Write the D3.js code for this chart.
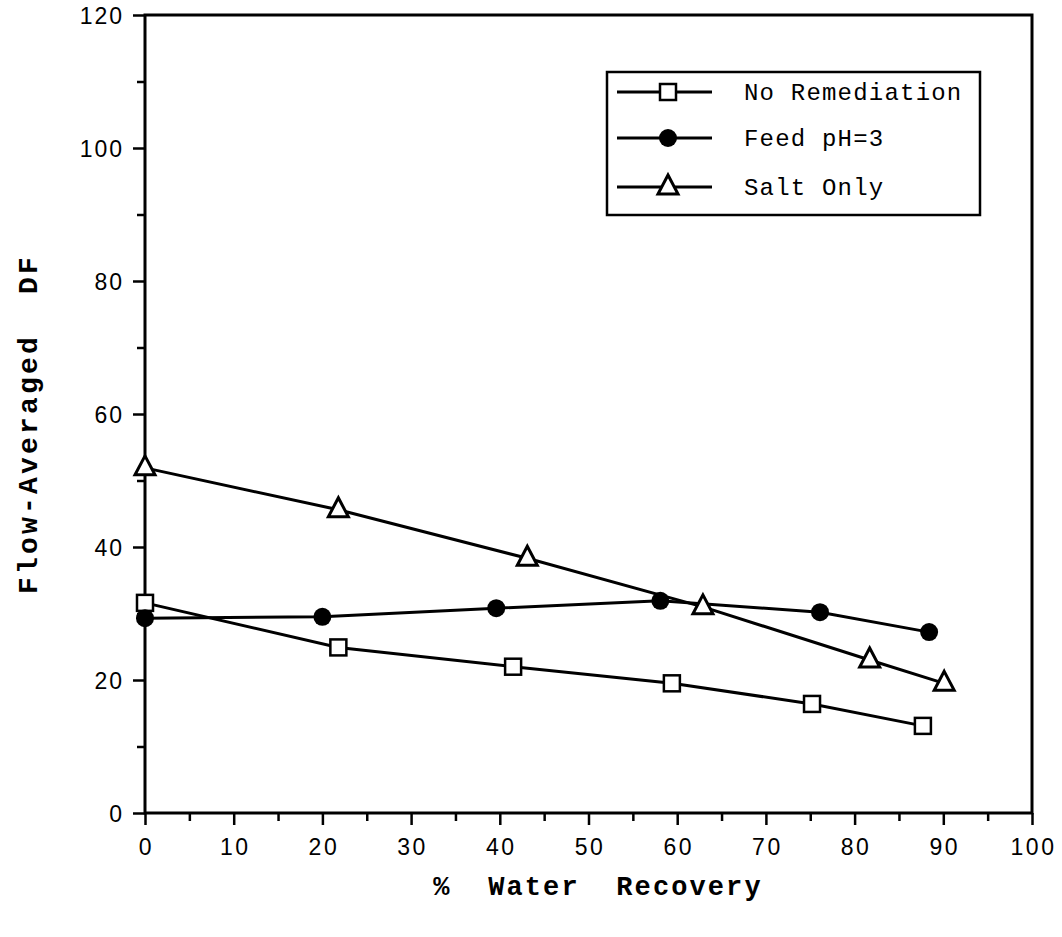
<!DOCTYPE html>
<html><head><meta charset="utf-8">
<script src="https://cdn.jsdelivr.net/npm/d3@7"></script>
<style>body{margin:0;background:#fff}</style>
</head><body><svg id="c" width="1062" height="937"></svg>
<script>
const noRemX = [0, 21.8, 41.5, 59.4, 75.2, 87.7];
const noRemY = [31.6, 24.9, 22.0, 19.5, 16.4, 13.1];
const feedX = [0, 20.0, 39.6, 58.1, 76.1, 88.4];
const feedY = [29.3, 29.5, 30.8, 31.9, 30.2, 27.2];
const saltX = [0, 21.8, 43.1, 62.9, 81.7, 90.1];
const saltY = [51.9, 45.6, 38.3, 31.0, 23.0, 19.5];
const seriesNames = ["No Remediation", "Feed pH=3", "Salt Only"];
const xTicks = [0,10,20,30,40,50,60,70,80,90,100];
const yTicks = [0,20,40,60,80,100,120];

const svg = d3.select("#c");
const L=145,R=1032,T=15,B=813;
const x = d3.scaleLinear().domain([0,100]).range([L,R]);
const y = d3.scaleLinear().domain([0,120]).range([B,T]);
const ink="#000";
const mono="'Liberation Mono','Courier New',monospace";

svg.append("rect").attr("x",L).attr("y",T).attr("width",R-L).attr("height",B-T)
  .attr("fill","none").attr("stroke",ink).attr("stroke-width",3);

const xa = svg.append("g").attr("transform",`translate(0,${B})`)
  .call(d3.axisBottom(x).tickValues(xTicks).tickSize(12).tickFormat(d3.format("d")));
const xm = svg.append("g").attr("transform",`translate(0,${B})`)
  .call(d3.axisBottom(x).tickValues(d3.range(5,100,10)).tickSize(8).tickFormat(""));
const ya = svg.append("g").attr("transform",`translate(${L},0)`)
  .call(d3.axisLeft(y).tickValues(yTicks).tickSize(12).tickFormat(d3.format("d")));
const ym = svg.append("g").attr("transform",`translate(${L},0)`)
  .call(d3.axisLeft(y).tickValues(d3.range(10,120,20)).tickSize(8).tickFormat(""));
[xa,xm,ya,ym].forEach(g=>{
  g.select(".domain").remove();
  g.selectAll("line").attr("stroke",ink).attr("stroke-width",2.5);
  g.selectAll("text").attr("fill",ink).style("font-family","'Liberation Sans',Arial,sans-serif");
});
xa.selectAll("text").style("font-size","23px").style("letter-spacing","2.5px")
  .attr("y",0).attr("dy",0).attr("transform","translate(1,42)");
ya.selectAll("text").style("font-size","23px").style("letter-spacing","2px")
  .attr("x",-21).attr("dy","0.36em");

svg.append("text").attr("x",598).attr("y",895).attr("text-anchor","middle")
  .style("font-family",mono).style("font-weight","bold")
  .style("font-size","27px").style("letter-spacing","2.1px").attr("xml:space","preserve").text("%  Water  Recovery");
svg.append("text").attr("transform","translate(37,424) rotate(-90)").attr("text-anchor","middle")
  .style("font-family",mono).style("font-weight","bold")
  .style("font-size","28px").style("letter-spacing","3.2px").attr("xml:space","preserve").text("Flow-Averaged  DF");

const line = d3.line().x(d=>x(d[0])).y(d=>y(d[1]));
const sets = [
  {xs:noRemX, ys:noRemY, m:"square"},
  {xs:feedX, ys:feedY, m:"circle"},
  {xs:saltX, ys:saltY, m:"triangle"}
];
function marker(g, cx, cy, m){
  if(m==="square") g.append("rect").attr("x",cx-8).attr("y",cy-8).attr("width",16).attr("height",16)
     .attr("fill","#fff").attr("stroke",ink).attr("stroke-width",2.5);
  else if(m==="circle") g.append("circle").attr("cx",cx).attr("cy",cy).attr("r",9).attr("fill",ink);
  else g.append("path").attr("d",`M${cx},${cy-12}L${cx+10},${cy+7}L${cx-10},${cy+7}Z`)
     .attr("fill","#fff").attr("stroke",ink).attr("stroke-width",3).attr("stroke-linejoin","miter");
}
sets.forEach(s=>{
  const pts = s.xs.map((v,i)=>[v,s.ys[i]]);
  svg.append("path").attr("d",line(pts)).attr("fill","none").attr("stroke",ink).attr("stroke-width",3);
});
sets.forEach(s=>{
  const g = svg.append("g");
  s.xs.forEach((v,i)=>marker(g, x(v), y(s.ys[i]), s.m));
});

svg.append("rect").attr("x",607).attr("y",72).attr("width",373).attr("height",143)
  .attr("fill","#fff").attr("stroke",ink).attr("stroke-width",2.5);
const ly=[92,138,187];
sets.forEach((s,i)=>{
  const g=svg.append("g");
  g.append("line").attr("x1",617).attr("x2",712).attr("y1",ly[i]).attr("y2",ly[i]).attr("stroke",ink).attr("stroke-width",3);
  marker(g, 668, ly[i], s.m);
  svg.append("text").attr("x",744).attr("y",ly[i]+8)
    .style("font-family",mono).style("font-size","24px").style("letter-spacing","1.2px").text(seriesNames[i]);
});
</script></body></html>
